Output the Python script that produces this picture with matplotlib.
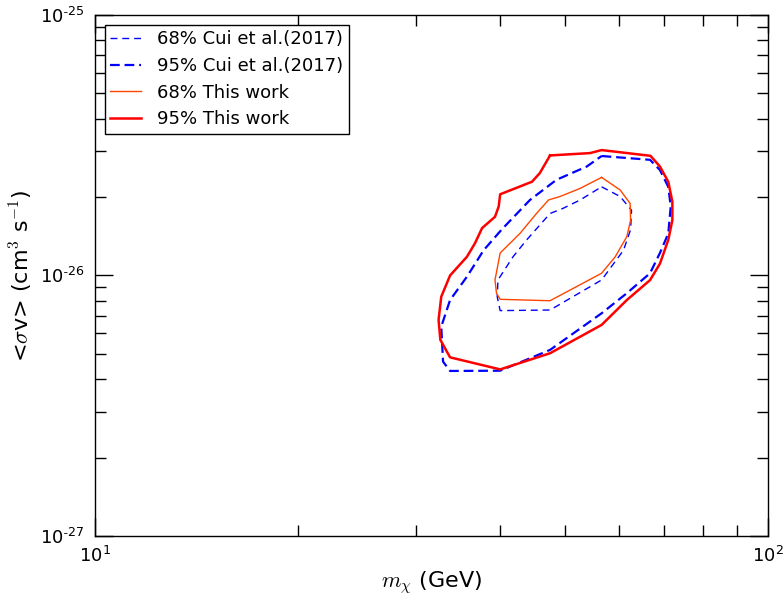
import matplotlib
matplotlib.use('Agg')
import matplotlib.pyplot as plt
from matplotlib.ticker import FixedLocator, FixedFormatter, NullFormatter
import numpy as np

plt.rcParams['mathtext.fontset'] = 'cm'
plt.rcParams['font.size'] = 13
plt.rcParams['lines.scale_dashes'] = False

# contour values: mass in GeV, <sigma v> in units of 1e-26 cm^3/s
cui68_m = [56.6, 60.3, 62.7, 62.5, 61.0, 56.6, 47.45, 40.0, 39.6, 39.7, 41.8, 43.8, 47.45, 49.6, 52.6]
cui68_sv = [2.19, 2.01, 1.78, 1.50, 1.25, 0.961, 0.737, 0.733, 0.829, 0.961, 1.18, 1.37, 1.73, 1.81, 1.95]

cui95_m = [56.6, 66.8, 69.1, 71.1, 71.7, 71.1, 69.1, 66.8, 61.7, 56.6, 47.45, 40.0, 33.7, 32.9, 32.7,
           33.7, 35.7, 37.8, 40.2, 44.3, 48.5, 53.8]
cui95_sv = [2.875, 2.78, 2.54, 2.19, 1.84, 1.45, 1.22, 1.02, 0.855, 0.716, 0.518, 0.431, 0.430, 0.467, 0.636,
            0.805, 0.989, 1.25, 1.50, 1.95, 2.33, 2.62]

this68_m = [56.6, 60.3, 62.4, 62.5, 61.7, 59.3, 56.6, 47.45, 40.0, 39.5, 39.3, 40.0, 42.8, 45.3, 47.2, 49.1, 52.6]
this68_sv = [2.38, 2.13, 1.89, 1.63, 1.41, 1.18, 1.02, 0.800, 0.810, 0.855, 0.961, 1.22, 1.45, 1.73, 1.95, 2.01, 2.16]

this95_m = [47.45, 54.4, 56.6, 66.9, 69.1, 71.1, 72.1, 72.1, 71.1, 69.1, 66.8, 61.7, 56.6, 47.45, 40.0, 33.7,
            32.6, 32.4, 32.7, 33.7, 35.7, 36.7, 37.6, 39.3, 39.8, 40.0, 44.6, 45.8]
this95_sv = [2.89, 2.95, 3.03, 2.88, 2.62, 2.29, 1.92, 1.63, 1.37, 1.11, 0.96, 0.805, 0.646, 0.503, 0.436, 0.485,
             0.566, 0.675, 0.829, 1.00, 1.18, 1.33, 1.52, 1.68, 1.84, 2.05, 2.29, 2.47]

x_ticks = [10, 100]
x_ticklabels = [r'$\mathregular{10^{1}}$', r'$\mathregular{10^{2}}$']
y_ticks = [1e-27, 1e-26, 1e-25]
y_ticklabels = ['10$^{\\mathregular{\\text{-}27}}$', '10$^{\\mathregular{\\text{-}26}}$',
                '10$^{\\mathregular{\\text{-}25}}$']


def closed(m, sv):
    # close the contour and convert to cm^3/s
    m = np.append(m, m[0])
    sv = np.append(sv, sv[0]) * 1e-26
    return m, sv


fig = plt.figure(figsize=(7.83, 5.95), dpi=100)
ax = fig.add_axes([0.1213, 0.0992, 0.8595, 0.8756])

ax.plot(*closed(cui68_m, cui68_sv), color='blue', lw=1.0, dashes=(5, 3.5), label='68% Cui et al.(2017)')
ax.plot(*closed(cui95_m, cui95_sv), color='blue', lw=1.6, dashes=(7, 3.5), label='95% Cui et al.(2017)')
ax.plot(*closed(this68_m, this68_sv), color='orangered', lw=1.0, label='68% This work')
ax.plot(*closed(this95_m, this95_sv), color='red', lw=1.8, label='95% This work')

ax.set_xscale('log')
ax.set_yscale('log')
ax.set_xlim(10, 100)
ax.set_ylim(1e-27, 1e-25)

ax.xaxis.set_major_locator(FixedLocator(x_ticks))
ax.xaxis.set_major_formatter(FixedFormatter(x_ticklabels))
ax.xaxis.set_minor_formatter(NullFormatter())
ax.yaxis.set_major_locator(FixedLocator(y_ticks))
ax.yaxis.set_major_formatter(FixedFormatter(y_ticklabels))
ax.yaxis.set_minor_formatter(NullFormatter())

ax.tick_params(which='both', direction='in', top=True, right=True, width=1, labelsize=13)
ax.tick_params(which='major', length=13, pad=7)
ax.tick_params(which='minor', length=8)
for s in ax.spines.values():
    s.set_linewidth(1.0)

ax.set_xlabel(r'$m_\chi$ (GeV)', fontsize=16, labelpad=2)
ax.set_ylabel(r'<$\sigma$v> (cm$^3$ s$^{-1}$)', fontsize=16)

ax.legend(loc='upper left', fancybox=False, edgecolor='black', framealpha=1, fontsize=13,
          handlelength=1.7, handletextpad=0.9, labelspacing=0.48, borderaxespad=0.55, borderpad=0.3)

fig.savefig('out.png', dpi=100)
